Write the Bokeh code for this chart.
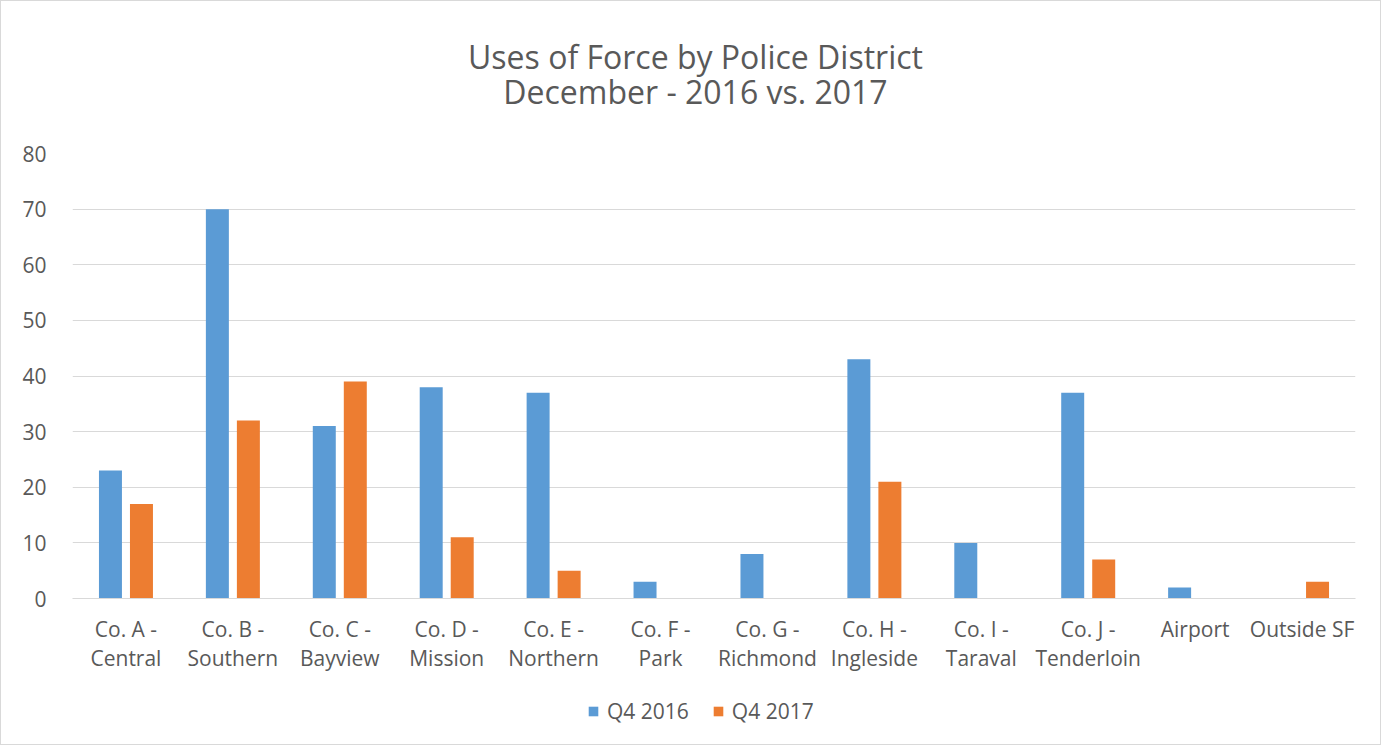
from bokeh.plotting import figure
from bokeh.layouts import column
from bokeh.models import ColumnDataSource, FactorRange, Legend, LegendItem, Label
from bokeh.transform import dodge
from bokeh.embed import file_html
from bokeh.resources import INLINE

categories = ["Co. A -\nCentral", "Co. B -\nSouthern", "Co. C -\nBayview", "Co. D -\nMission",
              "Co. E -\nNorthern", "Co. F -\nPark", "Co. G -\nRichmond", "Co. H -\nIngleside",
              "Co. I -\nTaraval", "Co. J -\nTenderloin", "Airport", "Outside SF"]
q4_2016 = [23, 70, 31, 38, 37, 3, 8, 43, 10, 37, 2, 0]
q4_2017 = [17, 32, 39, 11, 5, 0, 0, 21, 0, 7, 0, 3]
series_names = ["Q4 2016", "Q4 2017"]
y_ticks = [0, 10, 20, 30, 40, 50, 60, 70, 80]
title_lines = ["Uses of Force by Police District", "December - 2016 vs. 2017"]

FONT = "Open Sans"
GRAY = "#595959"
BLUE = "#5B9BD5"
ORANGE = "#ED7D31"
W = 1379

src = ColumnDataSource(dict(cat=categories, a=q4_2016, b=q4_2017))

# ---- title strip ----
pt = figure(width=W, height=137, x_range=(0, 1), y_range=(0, 1), x_axis_type=None,
            y_axis_type=None, output_backend="svg", toolbar_location=None, min_border=0)
pt.outline_line_color = None
for txt, sy in zip(title_lines, [82, 47]):
    pt.add_layout(Label(x=623, y=sy, x_units="screen", y_units="screen", text=txt,
                        text_align="center", text_baseline="middle", text_font=FONT,
                        text_font_size="32px", text_color=GRAY))

# ---- main chart ----
p = figure(x_range=FactorRange(*categories), y_range=(0, 80),
           frame_width=1283, frame_height=445, output_backend="svg", toolbar_location=None,
           min_border_left=71, min_border_right=25, min_border_top=15, min_border_bottom=80)

p.vbar(x=dodge("cat", -0.145, range=p.x_range), top="a", width=0.215, source=src,
       color=BLUE, line_color=None)
p.vbar(x=dodge("cat", 0.145, range=p.x_range), top="b", width=0.215, source=src,
       color=ORANGE, line_color=None)

p.x_range.range_padding = 0
p.outline_line_color = None
p.xgrid.grid_line_color = None
p.ygrid.grid_line_color = "#D9D9D9"
p.yaxis.ticker = y_ticks
p.yaxis.axis_line_color = None
p.yaxis.major_tick_line_color = None
p.yaxis.minor_tick_line_color = None
p.yaxis.major_label_text_font = FONT
p.yaxis.major_label_text_font_size = "21px"
p.yaxis.major_label_text_color = GRAY
p.yaxis.major_label_standoff = 20
p.xaxis.axis_line_color = "#D9D9D9"
p.xaxis.major_tick_line_color = None
p.xaxis.minor_tick_line_color = None
p.xaxis.major_label_text_font = FONT
p.xaxis.major_label_text_font_size = "21px"
p.xaxis.major_label_text_color = GRAY
p.xaxis.major_label_text_line_height = 1.05
p.xaxis.major_label_standoff = 10

# ---- legend strip (series renderers hidden; only their legend swatches show) ----
pl = figure(width=W, height=66, x_range=FactorRange(*categories), y_range=(0, 80),
            x_axis_type=None, y_axis_type=None, output_backend="svg",
            toolbar_location=None, min_border=0)
pl.outline_line_color = None
pl.xgrid.visible = False
pl.ygrid.visible = False
l1 = pl.vbar(x="cat", top="a", width=0.2, source=src, color=BLUE, line_color=None)
l2 = pl.vbar(x="cat", top="b", width=0.2, source=src, color=ORANGE, line_color=None)
l1.visible = False
l2.visible = False
legend = Legend(items=[LegendItem(label=series_names[0], renderers=[l1]),
                       LegendItem(label=series_names[1], renderers=[l2])],
                orientation="horizontal", location=(515, 19),
                label_text_font=FONT, label_text_font_size="21px", label_text_color=GRAY,
                glyph_width=12, glyph_height=12, spacing=23, label_standoff=8,
                border_line_color=None, background_fill_alpha=0, margin=0, padding=0,
                inactive_fill_alpha=0)
pl.add_layout(legend, "center")

layout = column(pt, p, pl, spacing=0)
layout.styles = {"border": "1px solid #D9D9D9"}

open("out.html", "w").write(file_html(layout, INLINE))
